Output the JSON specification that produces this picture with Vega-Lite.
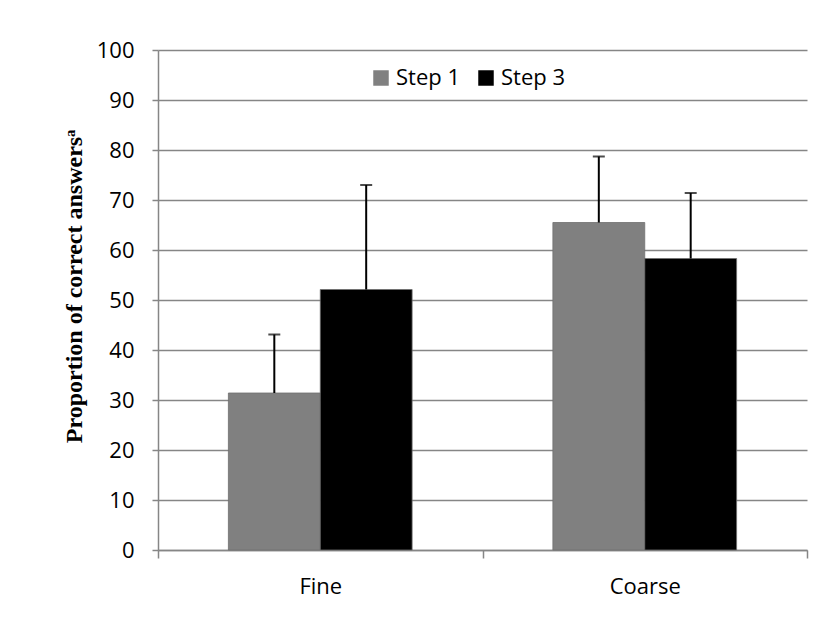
{
  "$schema": "https://vega.github.io/schema/vega-lite/v6.json",
  "autosize": "none",
  "width": 649,
  "height": 500,
  "padding": {"left": 158, "top": 50, "right": 15, "bottom": 75},
  "background": "white",
  "config": {
    "view": {"stroke": null},
    "font": "Open Sans",
    "axis": {"labelFont": "Open Sans", "labelColor": "#000000", "labelFontSize": 22, "domainColor": "#868686", "tickColor": "#868686", "gridColor": "#868686", "domainWidth": 1.5, "tickWidth": 1.5, "gridWidth": 1.5}
  },
  "data": {
    "values": [
      {"condition": "Fine", "step": "Step 1", "value": 31.4, "upper": 43.1},
      {"condition": "Fine", "step": "Step 3", "value": 52.1, "upper": 73.0},
      {"condition": "Coarse", "step": "Step 1", "value": 65.5, "upper": 78.7},
      {"condition": "Coarse", "step": "Step 3", "value": 58.3, "upper": 71.4}
    ]
  },
  "encoding": {
    "x": {
      "field": "condition", "type": "nominal", "sort": ["Fine", "Coarse"],
      "scale": {"paddingInner": 0, "paddingOuter": 0},
      "axis": {"title": null, "labelAngle": 0, "tickBand": "extent", "tickSize": 8, "labelPadding": 18, "grid": false}
    },
    "xOffset": {
      "field": "step", "type": "nominal", "sort": ["Step 1", "Step 3"],
      "scale": {"paddingInner": 0, "paddingOuter": 0.766}
    }
  },
  "layer": [
    {
      "mark": {"type": "bar", "stroke": "#6e6e6e", "strokeWidth": 0.8},
      "encoding": {
        "y": {
          "field": "value", "type": "quantitative",
          "scale": {"domain": [0, 100], "nice": false},
          "axis": {
            "values": [0, 10, 20, 30, 40, 50, 60, 70, 80, 90, 100],
            "grid": true, "tickSize": 6, "labelPadding": 18,
            "title": "Proportion of correct answersᵃ",
            "titleFont": "Liberation Serif", "titleFontWeight": "bold", "titleFontSize": 24,
            "titleColor": "#000000", "titleX": -84, "titleY": 236, "titleBaseline": "middle", "titleAngle": -90
          }
        },
        "color": {
          "field": "step", "type": "nominal",
          "scale": {"domain": ["Step 1", "Step 3"], "range": ["#808080", "#000000"]},
          "legend": {
            "title": null, "orient": "none", "legendX": 212, "legendY": 17,
            "direction": "horizontal", "symbolType": "square", "symbolSize": 240,
            "symbolStrokeWidth": 0, "labelFont": "Open Sans", "labelFontSize": 22,
            "labelColor": "#000000", "columnPadding": 14, "labelOffset": 4
          }
        }
      }
    },
    {
      "mark": {"type": "rule", "color": "#000000", "strokeWidth": 2},
      "encoding": {
        "y": {"field": "value", "type": "quantitative"},
        "y2": {"field": "upper"}
      }
    },
    {
      "mark": {"type": "tick", "color": "#000000", "thickness": 2, "size": 12},
      "encoding": {
        "y": {"field": "upper", "type": "quantitative"}
      }
    }
  ]
}
